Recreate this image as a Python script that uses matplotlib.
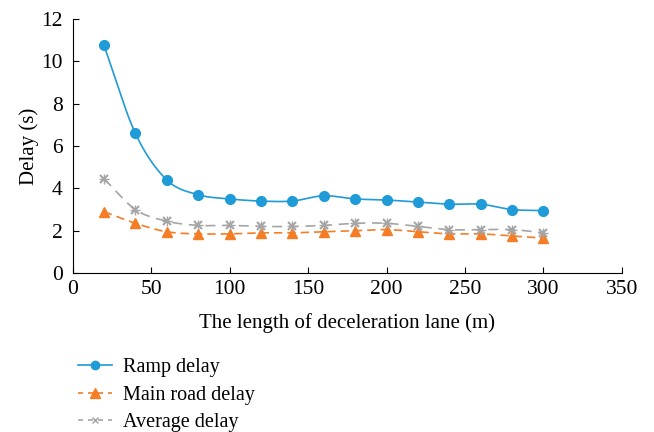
import numpy as np
import matplotlib
matplotlib.use("Agg")
import matplotlib.pyplot as plt

plt.rcParams['font.family'] = ['Liberation Serif', 'DejaVu Serif']

length = [20, 40, 60, 80, 100, 120, 140, 160, 180, 200, 220, 240, 260, 280, 300]
ramp = [10.75, 6.6, 4.4, 3.7, 3.5, 3.4, 3.4, 3.65, 3.5, 3.45, 3.35, 3.25, 3.25, 3.0, 2.95]
main_road = [2.9, 2.35, 1.95, 1.85, 1.85, 1.9, 1.9, 1.95, 2.0, 2.05, 1.95, 1.85, 1.85, 1.75, 1.65]
average = [4.45, 3.0, 2.45, 2.25, 2.25, 2.2, 2.2, 2.25, 2.35, 2.35, 2.2, 2.05, 2.05, 2.05, 1.9]


def smooth(x, y, n=20):
    # catmull-rom curve through the points, like excel's smoothed line
    x = np.asarray(x, float)
    y = np.asarray(y, float)
    px = np.concatenate([[2 * x[0] - x[1]], x, [2 * x[-1] - x[-2]]])
    py = np.concatenate([[2 * y[0] - y[1]], y, [2 * y[-1] - y[-2]]])
    xs, ys = [], []
    t = np.linspace(0, 1, n, endpoint=False)
    for i in range(1, len(px) - 2):
        for p, out in ((px, xs), (py, ys)):
            p0, p1, p2, p3 = p[i - 1], p[i], p[i + 1], p[i + 2]
            out.extend(0.5 * (2 * p1 + (-p0 + p2) * t + (2 * p0 - 5 * p1 + 4 * p2 - p3) * t ** 2
                              + (-p0 + 3 * p1 - 3 * p2 + p3) * t ** 3))
    xs.append(x[-1])
    ys.append(y[-1])
    return xs, ys


blue = '#1f9bd7'
orange = '#f47d26'
gray = '#a5a5a5'

fig = plt.figure(figsize=(6.54, 4.32), dpi=100)
ax = fig.add_axes([0.111, 0.368, 0.840, 0.588])

sx, sy = smooth(length, ramp)
ax.plot(sx, sy, color=blue, lw=1.2)
ax.plot(length, ramp, 'o', color=blue, ms=7)
sx, sy = smooth(length, main_road)
ax.plot(sx, sy, color=orange, lw=1.2, dashes=(5, 3))
ax.plot(length, main_road, '^', color=orange, ms=7)
sx, sy = smooth(length, average)
ax.plot(sx, sy, color=gray, lw=1.2, dashes=(6, 4))
ax.plot(length, average, 'x', color=gray, ms=6, mew=1.5)
ax.plot(length, average, '+', color=gray, ms=7, mew=1.0)

ax.set_xlim(0, 350)
ax.set_ylim(0, 12)
ax.set_xticks(range(0, 351, 50))
ax.set_yticks(range(0, 13, 2))
ax.spines['top'].set_visible(False)
ax.spines['right'].set_visible(False)
ax.tick_params(direction='in', labelsize=15.5, length=4)
ax.tick_params(axis='y', pad=7)
ax.tick_params(axis='x', pad=5)
ax.set_xlabel('The length of deceleration lane (m)', fontsize=15, labelpad=10)
ax.set_ylabel('Delay (s)', fontsize=15, labelpad=2)

# legend below the chart
h1, = ax.plot([], [], '-o', color=blue, lw=1.2, ms=6)
h2, = ax.plot([], [], '^', ls=(0, (3, 3)), color=orange, lw=1.2, ms=7)
h3, = ax.plot([], [], 'x', ls=(0, (3, 3)), color=gray, lw=1.2, ms=5)
fig.legend([h1, h2, h3], ['Ramp delay', 'Main road delay', 'Average delay'],
           loc='upper left', bbox_to_anchor=(0.107, 0.19), frameon=False,
           fontsize=14.5, handlelength=1.7, handletextpad=0.55, labelspacing=0.42,
           borderaxespad=0)

fig.savefig('out.png', dpi=100)
